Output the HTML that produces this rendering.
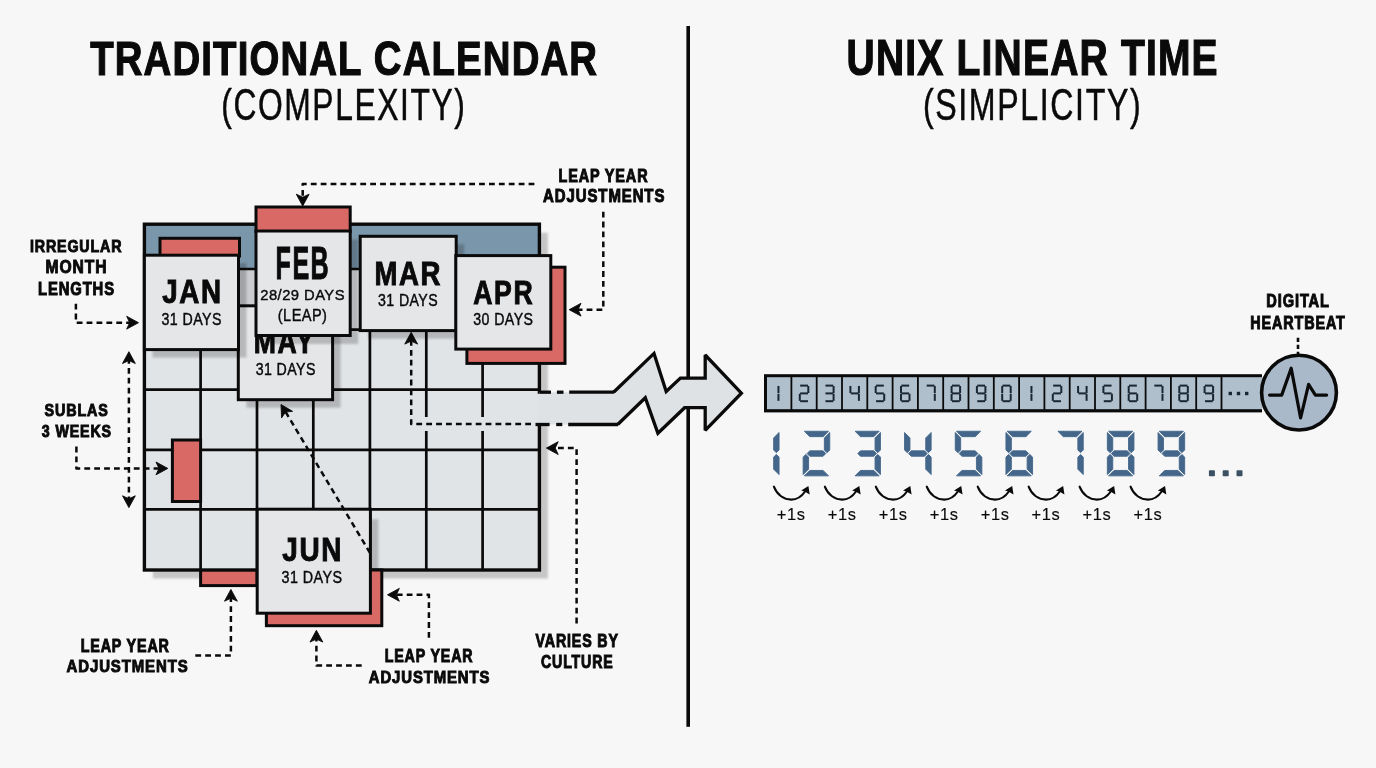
<!DOCTYPE html>
<html><head><meta charset="utf-8"><style>html,body{margin:0;padding:0;background:#f7f7f7;overflow:hidden}svg{display:block}</style></head>
<body><svg width="1376" height="768" viewBox="0 0 1376 768">
<defs><filter id="blur" x="-10%" y="-10%" width="120%" height="120%"><feGaussianBlur stdDeviation="1.2"/></filter></defs>
<rect x="0" y="0" width="1376" height="768" fill="#f7f7f7"/>
<rect x="686.40" y="26.00" width="3.60" height="700.80" fill="#0a0a0a"/>
<rect x="152.90" y="232.70" width="395.00" height="345.80" fill="#000" fill-opacity="0.2" filter="url(#blur)"/>
<rect x="200.60" y="560.00" width="56.40" height="25.60" fill="#d96965" stroke="#0a0a0a" stroke-width="3"/>
<rect x="144.40" y="224.20" width="395.00" height="345.80" fill="#e1e4e7"/>
<rect x="144.40" y="224.20" width="395.00" height="44.80" fill="#7a96aa"/>
<g stroke="#0a0a0a" stroke-width="2.7"><line x1="200.6" y1="269.0" x2="200.6" y2="570.0"/><line x1="257.0" y1="269.0" x2="257.0" y2="570.0"/><line x1="313.3" y1="269.0" x2="313.3" y2="570.0"/><line x1="369.9" y1="269.0" x2="369.9" y2="570.0"/><line x1="426.3" y1="269.0" x2="426.3" y2="570.0"/><line x1="482.6" y1="269.0" x2="482.6" y2="570.0"/><line x1="144.4" y1="269.0" x2="539.4" y2="269.0"/><line x1="144.4" y1="329.6" x2="539.4" y2="329.6"/><line x1="144.4" y1="389.6" x2="539.4" y2="389.6"/><line x1="144.4" y1="449.8" x2="539.4" y2="449.8"/><line x1="144.4" y1="509.3" x2="539.4" y2="509.3"/></g>
<rect x="144.40" y="224.20" width="395.00" height="345.80" fill="none" stroke="#0a0a0a" stroke-width="3.4"/>
<rect x="172.40" y="440.00" width="28.20" height="61.50" fill="#d96965" stroke="#0a0a0a" stroke-width="3"/>
<rect x="421" y="417" width="10" height="14" fill="#e1e4e7"/>
<rect x="477" y="417" width="10" height="14" fill="#e1e4e7"/>
<rect x="537" y="393.8" width="5" height="29.2" fill="#dfe2e5"/>
<polygon points="539.40,392.20 613.60,392.20 654.00,353.40 666.20,391.50 680.40,378.10 705.20,378.10 705.20,355.00 741.40,393.20 705.20,430.30 705.20,407.70 684.60,407.70 657.90,433.30 645.30,397.70 617.70,424.50 539.40,424.50" fill="#dfe2e5" stroke="none"/>
<polyline points="613.60,392.20 654.00,353.40 666.20,391.50 680.40,378.10 705.20,378.10 705.20,355.00 741.40,393.20 705.20,430.30 705.20,407.70 684.60,407.70 657.90,433.30 645.30,397.70 617.70,424.50" fill="none" stroke="#0a0a0a" stroke-width="3.3" stroke-linejoin="miter" stroke-miterlimit="2.2"/>
<line x1="539.4" y1="392.2" x2="551" y2="392.2" stroke="#0a0a0a" stroke-width="3.3"/>
<line x1="556.9" y1="392.2" x2="563.5" y2="392.2" stroke="#0a0a0a" stroke-width="3.3"/>
<line x1="569.2" y1="392.2" x2="614" y2="392.2" stroke="#0a0a0a" stroke-width="3.3"/>
<line x1="535.5" y1="424.5" x2="549.6" y2="424.5" stroke="#0a0a0a" stroke-width="3.3"/>
<line x1="556.2" y1="424.5" x2="562.3" y2="424.5" stroke="#0a0a0a" stroke-width="3.3"/>
<line x1="568.2" y1="424.5" x2="618" y2="424.5" stroke="#0a0a0a" stroke-width="3.3"/>
<polyline points="411.20,340.00 411.20,424.00 531.00,424.00" fill="none" stroke="#0a0a0a" stroke-width="2.5" stroke-dasharray="5.8 4.1" stroke-linejoin="round"/>
<polygon points="411.20,332.30 417.60,344.10 411.20,341.10 404.80,344.10" fill="#0a0a0a" stroke="#0a0a0a" stroke-width="0.9" stroke-linejoin="round"/>
<rect x="246.30" y="313.80" width="94.30" height="93.90" fill="#000" fill-opacity="0.2" filter="url(#blur)"/><rect x="238.30" y="305.80" width="94.30" height="93.90" fill="#e4e6e8" stroke="#0a0a0a" stroke-width="3"/>
<g font-family="Liberation Sans" fill="#0a0a0a" stroke="#0a0a0a" style="opacity:0.999"><text transform="matrix(0.26620 0 0 0.32754 253.787 353.250)" font-size="100" font-weight="bold" letter-spacing="6" stroke-width="0.9" vector-effect="non-scaling-stroke">MAY</text><text transform="matrix(0.14189 0 0 0.16901 255.632 375.331)" font-size="100" font-weight="normal" letter-spacing="3" stroke-width="0.4" vector-effect="non-scaling-stroke">31 DAYS</text></g>
<rect x="152.40" y="263.20" width="94.10" height="94.40" fill="#000" fill-opacity="0.2" filter="url(#blur)"/>
<rect x="239.5" y="270" width="16" height="34.5" fill="#000" fill-opacity="0.1"/>
<rect x="160.00" y="238.30" width="79.50" height="17.70" fill="#d96965" stroke="#0a0a0a" stroke-width="3"/>
<rect x="144.40" y="255.20" width="94.10" height="94.40" fill="#e4e6e8" stroke="#0a0a0a" stroke-width="3"/>
<rect x="264.00" y="239.50" width="94.20" height="104.50" fill="#000" fill-opacity="0.2" filter="url(#blur)"/>
<rect x="256.00" y="207.00" width="94.20" height="24.50" fill="#d96965" stroke="#0a0a0a" stroke-width="3"/>
<rect x="256.00" y="231.00" width="94.20" height="104.50" fill="#e4e6e8" stroke="#0a0a0a" stroke-width="3"/>
<rect x="368.20" y="244.30" width="96.00" height="94.30" fill="#000" fill-opacity="0.2" filter="url(#blur)"/><rect x="360.20" y="236.30" width="96.00" height="94.30" fill="#e4e6e8" stroke="#0a0a0a" stroke-width="3"/>
<rect x="466.90" y="267.20" width="98.10" height="96.20" fill="#d96965" stroke="#0a0a0a" stroke-width="3"/>
<rect x="455.80" y="255.60" width="95.00" height="93.50" fill="#e4e6e8" stroke="#0a0a0a" stroke-width="3"/>
<rect x="265.20" y="519.20" width="113.20" height="104.00" fill="#000" fill-opacity="0.2" filter="url(#blur)"/>
<rect x="266.40" y="570.00" width="115.40" height="55.70" fill="#d96965" stroke="#0a0a0a" stroke-width="3"/>
<rect x="257.20" y="509.20" width="113.20" height="104.00" fill="#e4e6e8" stroke="#0a0a0a" stroke-width="3"/>
<polyline points="534.40,184.00 302.70,184.00 302.70,202.00" fill="none" stroke="#0a0a0a" stroke-width="2.5" stroke-dasharray="5.8 4.1" stroke-linejoin="round"/>
<polygon points="302.70,206.00 296.30,194.20 302.70,197.20 309.10,194.20" fill="#0a0a0a" stroke="#0a0a0a" stroke-width="0.9" stroke-linejoin="round"/>
<polyline points="603.30,211.70 603.30,309.70 573.00,309.70" fill="none" stroke="#0a0a0a" stroke-width="2.5" stroke-dasharray="5.8 4.1" stroke-linejoin="round"/>
<polygon points="569.20,309.70 581.00,303.30 578.00,309.70 581.00,316.10" fill="#0a0a0a" stroke="#0a0a0a" stroke-width="0.9" stroke-linejoin="round"/>
<polyline points="75.90,303.70 75.90,322.70 134.00,322.70" fill="none" stroke="#0a0a0a" stroke-width="2.5" stroke-dasharray="5.8 4.1" stroke-linejoin="round"/>
<polygon points="138.50,322.70 126.70,329.10 129.70,322.70 126.70,316.30" fill="#0a0a0a" stroke="#0a0a0a" stroke-width="0.9" stroke-linejoin="round"/>
<polyline points="128.90,358.00 128.90,501.00" fill="none" stroke="#0a0a0a" stroke-width="2.5" stroke-dasharray="5.8 4.1" stroke-linejoin="round"/>
<polygon points="128.90,351.70 135.30,363.50 128.90,360.50 122.50,363.50" fill="#0a0a0a" stroke="#0a0a0a" stroke-width="0.9" stroke-linejoin="round"/>
<polygon points="128.90,507.60 122.50,495.80 128.90,498.80 135.30,495.80" fill="#0a0a0a" stroke="#0a0a0a" stroke-width="0.9" stroke-linejoin="round"/>
<polyline points="76.40,446.60 76.40,468.40 163.00,468.40" fill="none" stroke="#0a0a0a" stroke-width="2.5" stroke-dasharray="5.8 4.1" stroke-linejoin="round"/>
<polygon points="167.80,468.40 156.00,474.80 159.00,468.40 156.00,462.00" fill="#0a0a0a" stroke="#0a0a0a" stroke-width="0.9" stroke-linejoin="round"/>
<polyline points="195.30,655.60 230.90,655.60 230.90,594.00" fill="none" stroke="#0a0a0a" stroke-width="2.5" stroke-dasharray="5.8 4.1" stroke-linejoin="round"/>
<polygon points="230.90,589.40 237.30,601.20 230.90,598.20 224.50,601.20" fill="#0a0a0a" stroke="#0a0a0a" stroke-width="0.9" stroke-linejoin="round"/>
<polyline points="428.90,637.80 428.90,594.80 392.00,594.80" fill="none" stroke="#0a0a0a" stroke-width="2.5" stroke-dasharray="5.8 4.1" stroke-linejoin="round"/>
<polygon points="387.50,594.80 399.30,588.40 396.30,594.80 399.30,601.20" fill="#0a0a0a" stroke="#0a0a0a" stroke-width="0.9" stroke-linejoin="round"/>
<polyline points="361.70,665.60 316.40,665.60 316.40,635.00" fill="none" stroke="#0a0a0a" stroke-width="2.5" stroke-dasharray="5.8 4.1" stroke-linejoin="round"/>
<polygon points="316.40,630.30 322.80,642.10 316.40,639.10 310.00,642.10" fill="#0a0a0a" stroke="#0a0a0a" stroke-width="0.9" stroke-linejoin="round"/>
<polyline points="576.60,623.40 576.60,448.10 551.00,448.10" fill="none" stroke="#0a0a0a" stroke-width="2.5" stroke-dasharray="5.8 4.1" stroke-linejoin="round"/>
<polygon points="546.40,448.10 558.20,441.70 555.20,448.10 558.20,454.50" fill="#0a0a0a" stroke="#0a0a0a" stroke-width="0.9" stroke-linejoin="round"/>
<polyline points="370.00,552.80 285.50,411.80" fill="none" stroke="#0a0a0a" stroke-width="2.5" stroke-dasharray="5.8 4.1" stroke-linejoin="round"/>
<polygon points="281.00,404.50 292.56,411.32 285.53,412.05 281.58,417.91" fill="#0a0a0a" stroke="#0a0a0a" stroke-width="0.9" stroke-linejoin="round"/>
<g font-family="Liberation Sans" fill="#0a0a0a" stroke="#0a0a0a" vector-effect="non-scaling-stroke" style="opacity:0.999"><text transform="matrix(0.38354 0 0 0.48028 90.166 74.770)" font-size="100" font-weight="bold" letter-spacing="3" stroke-width="1.1" vector-effect="non-scaling-stroke">TRADITIONAL CALENDAR</text><text transform="matrix(0.31810 0 0 0.44734 221.216 119.781)" font-size="100" font-weight="normal" letter-spacing="5" stroke-width="0.45" vector-effect="non-scaling-stroke">(COMPLEXITY)</text><text transform="matrix(0.39044 0 0 0.49714 846.607 75.153)" font-size="100" font-weight="bold" letter-spacing="3" stroke-width="1.1" vector-effect="non-scaling-stroke">UNIX LINEAR TIME</text><text transform="matrix(0.32158 0 0 0.44415 922.896 119.648)" font-size="100" font-weight="normal" letter-spacing="5" stroke-width="0.45" vector-effect="non-scaling-stroke">(SIMPLICITY)</text><text transform="matrix(0.14465 0 0 0.17536 558.437 181.550)" font-size="100" font-weight="bold" letter-spacing="6" stroke-width="0.9" vector-effect="non-scaling-stroke">LEAP YEAR</text><text transform="matrix(0.14981 0 0 0.18028 543.101 202.370)" font-size="100" font-weight="bold" letter-spacing="6" stroke-width="0.9" vector-effect="non-scaling-stroke">ADJUSTMENTS</text><text transform="matrix(0.14250 0 0 0.17324 29.953 251.977)" font-size="100" font-weight="bold" letter-spacing="6" stroke-width="0.9" vector-effect="non-scaling-stroke">IRREGULAR</text><text transform="matrix(0.15623 0 0 0.17887 45.556 273.471)" font-size="100" font-weight="bold" letter-spacing="6" stroke-width="0.9" vector-effect="non-scaling-stroke">MONTH</text><text transform="matrix(0.14811 0 0 0.17746 38.013 294.573)" font-size="100" font-weight="bold" letter-spacing="6" stroke-width="0.9" vector-effect="non-scaling-stroke">LENGTHS</text><text transform="matrix(0.14378 0 0 0.16901 44.519 415.581)" font-size="100" font-weight="bold" letter-spacing="6" stroke-width="0.9" vector-effect="non-scaling-stroke">SUBLAS</text><text transform="matrix(0.14229 0 0 0.16901 41.865 436.681)" font-size="100" font-weight="bold" letter-spacing="6" stroke-width="0.9" vector-effect="non-scaling-stroke">3 WEEKS</text><text transform="matrix(0.14333 0 0 0.17681 80.647 651.550)" font-size="100" font-weight="bold" letter-spacing="6" stroke-width="0.9" vector-effect="non-scaling-stroke">LEAP YEAR</text><text transform="matrix(0.14956 0 0 0.17042 66.601 672.380)" font-size="100" font-weight="bold" letter-spacing="6" stroke-width="0.9" vector-effect="non-scaling-stroke">ADJUSTMENTS</text><text transform="matrix(0.14267 0 0 0.18623 384.651 662.050)" font-size="100" font-weight="bold" letter-spacing="6" stroke-width="0.9" vector-effect="non-scaling-stroke">LEAP YEAR</text><text transform="matrix(0.14913 0 0 0.16338 368.753 683.287)" font-size="100" font-weight="bold" letter-spacing="6" stroke-width="0.9" vector-effect="non-scaling-stroke">ADJUSTMENTS</text><text transform="matrix(0.14229 0 0 0.17746 535.508 646.873)" font-size="100" font-weight="bold" letter-spacing="6" stroke-width="0.9" vector-effect="non-scaling-stroke">VARIES BY</text><text transform="matrix(0.14177 0 0 0.17606 540.983 668.474)" font-size="100" font-weight="bold" letter-spacing="6" stroke-width="0.9" vector-effect="non-scaling-stroke">CULTURE</text><text transform="matrix(0.27783 0 0 0.33286 162.194 303.417)" font-size="100" font-weight="bold" letter-spacing="6" stroke-width="0.9" vector-effect="non-scaling-stroke">JAN</text><text transform="matrix(0.14213 0 0 0.16479 161.531 325.035)" font-size="100" font-weight="normal" letter-spacing="3" stroke-width="0.4" vector-effect="non-scaling-stroke">31 DAYS</text><text transform="matrix(0.25050 0 0 0.47101 275.596 278.750)" font-size="100" font-weight="bold" letter-spacing="6" stroke-width="0.9" vector-effect="non-scaling-stroke">FEB</text><text transform="matrix(0.14786 0 0 0.14595 260.261 300.454)" font-size="100" font-weight="normal" letter-spacing="3" stroke-width="0.4" vector-effect="non-scaling-stroke">28/29 DAYS</text><text transform="matrix(0.14569 0 0 0.17340 277.826 320.559)" font-size="100" font-weight="normal" letter-spacing="3" stroke-width="0.4" vector-effect="non-scaling-stroke">(LEAP)</text><text transform="matrix(0.27565 0 0 0.32754 374.420 284.750)" font-size="100" font-weight="bold" letter-spacing="6" stroke-width="0.9" vector-effect="non-scaling-stroke">MAR</text><text transform="matrix(0.14165 0 0 0.16901 377.933 305.931)" font-size="100" font-weight="normal" letter-spacing="3" stroke-width="0.4" vector-effect="non-scaling-stroke">31 DAYS</text><text transform="matrix(0.26606 0 0 0.32464 473.252 303.850)" font-size="100" font-weight="bold" letter-spacing="6" stroke-width="0.9" vector-effect="non-scaling-stroke">APR</text><text transform="matrix(0.14165 0 0 0.16901 473.233 325.231)" font-size="100" font-weight="normal" letter-spacing="3" stroke-width="0.4" vector-effect="non-scaling-stroke">30 DAYS</text><text transform="matrix(0.27931 0 0 0.33857 282.191 561.211)" font-size="100" font-weight="bold" letter-spacing="6" stroke-width="0.9" vector-effect="non-scaling-stroke">JUN</text><text transform="matrix(0.14334 0 0 0.16620 281.527 582.534)" font-size="100" font-weight="normal" letter-spacing="3" stroke-width="0.4" vector-effect="non-scaling-stroke">31 DAYS</text><text transform="matrix(0.14630 0 0 0.18169 1266.326 307.268)" font-size="100" font-weight="bold" letter-spacing="6" stroke-width="0.9" vector-effect="non-scaling-stroke">DIGITAL</text><text transform="matrix(0.14391 0 0 0.18406 1250.343 328.550)" font-size="100" font-weight="bold" letter-spacing="6" stroke-width="0.9" vector-effect="non-scaling-stroke">HEARTBEAT</text><text transform="matrix(0.16411 0 0 0.16071 776.854 519.764)" font-size="100" font-weight="normal" letter-spacing="4" stroke-width="0.15" vector-effect="non-scaling-stroke">+1s</text><text transform="matrix(0.16411 0 0 0.16071 827.804 519.764)" font-size="100" font-weight="normal" letter-spacing="4" stroke-width="0.15" vector-effect="non-scaling-stroke">+1s</text><text transform="matrix(0.16411 0 0 0.16071 878.754 519.764)" font-size="100" font-weight="normal" letter-spacing="4" stroke-width="0.15" vector-effect="non-scaling-stroke">+1s</text><text transform="matrix(0.16411 0 0 0.16071 929.704 519.764)" font-size="100" font-weight="normal" letter-spacing="4" stroke-width="0.15" vector-effect="non-scaling-stroke">+1s</text><text transform="matrix(0.16411 0 0 0.16071 980.654 519.764)" font-size="100" font-weight="normal" letter-spacing="4" stroke-width="0.15" vector-effect="non-scaling-stroke">+1s</text><text transform="matrix(0.16411 0 0 0.16071 1031.604 519.764)" font-size="100" font-weight="normal" letter-spacing="4" stroke-width="0.15" vector-effect="non-scaling-stroke">+1s</text><text transform="matrix(0.16411 0 0 0.16071 1082.554 519.764)" font-size="100" font-weight="normal" letter-spacing="4" stroke-width="0.15" vector-effect="non-scaling-stroke">+1s</text><text transform="matrix(0.16411 0 0 0.16071 1133.504 519.764)" font-size="100" font-weight="normal" letter-spacing="4" stroke-width="0.15" vector-effect="non-scaling-stroke">+1s</text></g>
<rect x="764.00" y="374.20" width="498.00" height="38.20" fill="#0a0a0a"/>
<rect x="767.00" y="377.20" width="23.50" height="32.00" fill="#b0bfcc"/>
<g stroke="#1a2633" stroke-width="2.0" stroke-linecap="butt"><line x1="778.45" y1="385.95" x2="778.45" y2="393.05"/><line x1="778.45" y1="393.75" x2="778.45" y2="400.85"/></g>
<rect x="792.30" y="377.20" width="23.50" height="32.00" fill="#b0bfcc"/>
<g stroke="#1a2633" stroke-width="2.0" stroke-linecap="butt"><line x1="800.15" y1="385.60" x2="807.95" y2="385.60"/><line x1="808.30" y1="385.95" x2="808.30" y2="393.05"/><line x1="800.15" y1="393.40" x2="807.95" y2="393.40"/><line x1="799.80" y1="393.75" x2="799.80" y2="400.85"/><line x1="800.15" y1="401.20" x2="807.95" y2="401.20"/></g>
<rect x="817.60" y="377.20" width="23.50" height="32.00" fill="#b0bfcc"/>
<g stroke="#1a2633" stroke-width="2.0" stroke-linecap="butt"><line x1="825.45" y1="385.60" x2="833.25" y2="385.60"/><line x1="833.60" y1="385.95" x2="833.60" y2="393.05"/><line x1="825.45" y1="393.40" x2="833.25" y2="393.40"/><line x1="833.60" y1="393.75" x2="833.60" y2="400.85"/><line x1="825.45" y1="401.20" x2="833.25" y2="401.20"/></g>
<rect x="842.90" y="377.20" width="23.50" height="32.00" fill="#b0bfcc"/>
<g stroke="#1a2633" stroke-width="2.0" stroke-linecap="butt"><line x1="850.40" y1="385.95" x2="850.40" y2="393.05"/><line x1="850.75" y1="393.40" x2="858.55" y2="393.40"/><line x1="858.90" y1="385.95" x2="858.90" y2="393.05"/><line x1="858.90" y1="393.75" x2="858.90" y2="400.85"/></g>
<rect x="868.20" y="377.20" width="23.50" height="32.00" fill="#b0bfcc"/>
<g stroke="#1a2633" stroke-width="2.0" stroke-linecap="butt"><line x1="876.05" y1="385.60" x2="883.85" y2="385.60"/><line x1="875.70" y1="385.95" x2="875.70" y2="393.05"/><line x1="876.05" y1="393.40" x2="883.85" y2="393.40"/><line x1="884.20" y1="393.75" x2="884.20" y2="400.85"/><line x1="876.05" y1="401.20" x2="883.85" y2="401.20"/></g>
<rect x="893.50" y="377.20" width="23.50" height="32.00" fill="#b0bfcc"/>
<g stroke="#1a2633" stroke-width="2.0" stroke-linecap="butt"><line x1="901.35" y1="385.60" x2="909.15" y2="385.60"/><line x1="901.00" y1="385.95" x2="901.00" y2="393.05"/><line x1="901.35" y1="393.40" x2="909.15" y2="393.40"/><line x1="901.00" y1="393.75" x2="901.00" y2="400.85"/><line x1="901.35" y1="401.20" x2="909.15" y2="401.20"/><line x1="909.50" y1="393.75" x2="909.50" y2="400.85"/></g>
<rect x="918.80" y="377.20" width="23.50" height="32.00" fill="#b0bfcc"/>
<g stroke="#1a2633" stroke-width="2.0" stroke-linecap="butt"><line x1="926.65" y1="385.60" x2="934.45" y2="385.60"/><line x1="934.80" y1="385.95" x2="934.80" y2="393.05"/><line x1="934.80" y1="393.75" x2="934.80" y2="400.85"/></g>
<rect x="944.10" y="377.20" width="23.50" height="32.00" fill="#b0bfcc"/>
<g stroke="#1a2633" stroke-width="2.0" stroke-linecap="butt"><line x1="951.95" y1="385.60" x2="959.75" y2="385.60"/><line x1="960.10" y1="385.95" x2="960.10" y2="393.05"/><line x1="960.10" y1="393.75" x2="960.10" y2="400.85"/><line x1="951.95" y1="401.20" x2="959.75" y2="401.20"/><line x1="951.60" y1="393.75" x2="951.60" y2="400.85"/><line x1="951.60" y1="385.95" x2="951.60" y2="393.05"/><line x1="951.95" y1="393.40" x2="959.75" y2="393.40"/></g>
<rect x="969.40" y="377.20" width="23.50" height="32.00" fill="#b0bfcc"/>
<g stroke="#1a2633" stroke-width="2.0" stroke-linecap="butt"><line x1="977.25" y1="385.60" x2="985.05" y2="385.60"/><line x1="985.40" y1="385.95" x2="985.40" y2="393.05"/><line x1="985.40" y1="393.75" x2="985.40" y2="400.85"/><line x1="977.25" y1="401.20" x2="985.05" y2="401.20"/><line x1="976.90" y1="385.95" x2="976.90" y2="393.05"/><line x1="977.25" y1="393.40" x2="985.05" y2="393.40"/></g>
<rect x="994.70" y="377.20" width="23.50" height="32.00" fill="#b0bfcc"/>
<g stroke="#1a2633" stroke-width="2.0" stroke-linecap="butt"><line x1="1002.55" y1="385.60" x2="1010.35" y2="385.60"/><line x1="1010.70" y1="385.95" x2="1010.70" y2="393.05"/><line x1="1010.70" y1="393.75" x2="1010.70" y2="400.85"/><line x1="1002.55" y1="401.20" x2="1010.35" y2="401.20"/><line x1="1002.20" y1="393.75" x2="1002.20" y2="400.85"/><line x1="1002.20" y1="385.95" x2="1002.20" y2="393.05"/></g>
<rect x="1020.00" y="377.20" width="23.50" height="32.00" fill="#b0bfcc"/>
<g stroke="#1a2633" stroke-width="2.0" stroke-linecap="butt"><line x1="1031.45" y1="385.95" x2="1031.45" y2="393.05"/><line x1="1031.45" y1="393.75" x2="1031.45" y2="400.85"/></g>
<rect x="1045.30" y="377.20" width="23.50" height="32.00" fill="#b0bfcc"/>
<g stroke="#1a2633" stroke-width="2.0" stroke-linecap="butt"><line x1="1053.15" y1="385.60" x2="1060.95" y2="385.60"/><line x1="1061.30" y1="385.95" x2="1061.30" y2="393.05"/><line x1="1053.15" y1="393.40" x2="1060.95" y2="393.40"/><line x1="1052.80" y1="393.75" x2="1052.80" y2="400.85"/><line x1="1053.15" y1="401.20" x2="1060.95" y2="401.20"/></g>
<rect x="1070.60" y="377.20" width="23.50" height="32.00" fill="#b0bfcc"/>
<g stroke="#1a2633" stroke-width="2.0" stroke-linecap="butt"><line x1="1078.10" y1="385.95" x2="1078.10" y2="393.05"/><line x1="1078.45" y1="393.40" x2="1086.25" y2="393.40"/><line x1="1086.60" y1="385.95" x2="1086.60" y2="393.05"/><line x1="1086.60" y1="393.75" x2="1086.60" y2="400.85"/></g>
<rect x="1095.90" y="377.20" width="23.50" height="32.00" fill="#b0bfcc"/>
<g stroke="#1a2633" stroke-width="2.0" stroke-linecap="butt"><line x1="1103.75" y1="385.60" x2="1111.55" y2="385.60"/><line x1="1103.40" y1="385.95" x2="1103.40" y2="393.05"/><line x1="1103.75" y1="393.40" x2="1111.55" y2="393.40"/><line x1="1111.90" y1="393.75" x2="1111.90" y2="400.85"/><line x1="1103.75" y1="401.20" x2="1111.55" y2="401.20"/></g>
<rect x="1121.20" y="377.20" width="23.50" height="32.00" fill="#b0bfcc"/>
<g stroke="#1a2633" stroke-width="2.0" stroke-linecap="butt"><line x1="1129.05" y1="385.60" x2="1136.85" y2="385.60"/><line x1="1128.70" y1="385.95" x2="1128.70" y2="393.05"/><line x1="1129.05" y1="393.40" x2="1136.85" y2="393.40"/><line x1="1128.70" y1="393.75" x2="1128.70" y2="400.85"/><line x1="1129.05" y1="401.20" x2="1136.85" y2="401.20"/><line x1="1137.20" y1="393.75" x2="1137.20" y2="400.85"/></g>
<rect x="1146.50" y="377.20" width="23.50" height="32.00" fill="#b0bfcc"/>
<g stroke="#1a2633" stroke-width="2.0" stroke-linecap="butt"><line x1="1154.35" y1="385.60" x2="1162.15" y2="385.60"/><line x1="1162.50" y1="385.95" x2="1162.50" y2="393.05"/><line x1="1162.50" y1="393.75" x2="1162.50" y2="400.85"/></g>
<rect x="1171.80" y="377.20" width="23.50" height="32.00" fill="#b0bfcc"/>
<g stroke="#1a2633" stroke-width="2.0" stroke-linecap="butt"><line x1="1179.65" y1="385.60" x2="1187.45" y2="385.60"/><line x1="1187.80" y1="385.95" x2="1187.80" y2="393.05"/><line x1="1187.80" y1="393.75" x2="1187.80" y2="400.85"/><line x1="1179.65" y1="401.20" x2="1187.45" y2="401.20"/><line x1="1179.30" y1="393.75" x2="1179.30" y2="400.85"/><line x1="1179.30" y1="385.95" x2="1179.30" y2="393.05"/><line x1="1179.65" y1="393.40" x2="1187.45" y2="393.40"/></g>
<rect x="1197.10" y="377.20" width="23.50" height="32.00" fill="#b0bfcc"/>
<g stroke="#1a2633" stroke-width="2.0" stroke-linecap="butt"><line x1="1204.95" y1="385.60" x2="1212.75" y2="385.60"/><line x1="1213.10" y1="385.95" x2="1213.10" y2="393.05"/><line x1="1213.10" y1="393.75" x2="1213.10" y2="400.85"/><line x1="1204.95" y1="401.20" x2="1212.75" y2="401.20"/><line x1="1204.60" y1="385.95" x2="1204.60" y2="393.05"/><line x1="1204.95" y1="393.40" x2="1212.75" y2="393.40"/></g>
<rect x="1222.40" y="377.20" width="39.60" height="32.00" fill="#b0bfcc"/>
<rect x="1228.60" y="391.80" width="3.40" height="3.40" fill="#1a2633"/>
<rect x="1236.80" y="391.80" width="3.40" height="3.40" fill="#1a2633"/>
<rect x="1245.00" y="391.80" width="3.40" height="3.40" fill="#1a2633"/>
<polyline points="1298.00,337.80 1298.00,354.00" fill="none" stroke="#0a0a0a" stroke-width="2.6" stroke-dasharray="4.2 2.8" stroke-linejoin="round"/>
<circle cx="1299.0" cy="392.6" r="37.4" fill="#a9b9c9" stroke="#0a0a0a" stroke-width="3.6"/>
<polyline points="1269.6,395.1 1281.7,395.1 1291.2,368.2 1300.6,418.0 1308.6,384.4 1315.4,395.1 1326.6,395.1" fill="none" stroke="#0a0a0a" stroke-width="3.2" stroke-linejoin="round" stroke-linecap="round"/>
<g fill="#43668a" stroke="#43668a" stroke-width="0.9" stroke-linejoin="round"><polygon points="779.05,432.50 773.65,437.90 773.65,449.98 776.35,452.68 779.05,449.98"/><polygon points="779.05,457.12 776.35,454.43 773.65,457.12 773.65,469.20 779.05,474.60"/></g>
<g fill="#43668a" stroke="#43668a" stroke-width="0.9" stroke-linejoin="round"><polygon points="804.40,431.25 828.50,431.25 823.10,436.65 809.80,436.65"/><polygon points="829.75,432.50 824.35,437.90 824.35,449.98 827.05,452.68 829.75,449.98"/><polygon points="807.10,453.55 809.80,450.85 823.10,450.85 825.80,453.55 823.10,456.25 809.80,456.25"/><polygon points="803.15,457.12 805.85,454.43 808.55,457.12 808.55,469.20 803.15,474.60"/><polygon points="809.80,470.45 823.10,470.45 828.50,475.85 804.40,475.85"/></g>
<g fill="#43668a" stroke="#43668a" stroke-width="0.9" stroke-linejoin="round"><polygon points="855.10,431.25 879.20,431.25 873.80,436.65 860.50,436.65"/><polygon points="880.45,432.50 875.05,437.90 875.05,449.98 877.75,452.68 880.45,449.98"/><polygon points="857.80,453.55 860.50,450.85 873.80,450.85 876.50,453.55 873.80,456.25 860.50,456.25"/><polygon points="880.45,457.12 877.75,454.43 875.05,457.12 875.05,469.20 880.45,474.60"/><polygon points="860.50,470.45 873.80,470.45 879.20,475.85 855.10,475.85"/></g>
<g fill="#43668a" stroke="#43668a" stroke-width="0.9" stroke-linejoin="round"><polygon points="904.55,432.50 909.95,437.90 909.95,449.98 907.25,452.68 904.55,449.98"/><polygon points="908.50,453.55 911.20,450.85 924.50,450.85 927.20,453.55 924.50,456.25 911.20,456.25"/><polygon points="931.15,432.50 925.75,437.90 925.75,449.98 928.45,452.68 931.15,449.98"/><polygon points="931.15,457.12 928.45,454.43 925.75,457.12 925.75,469.20 931.15,474.60"/></g>
<g fill="#43668a" stroke="#43668a" stroke-width="0.9" stroke-linejoin="round"><polygon points="956.50,431.25 980.60,431.25 975.20,436.65 961.90,436.65"/><polygon points="955.25,432.50 960.65,437.90 960.65,449.98 957.95,452.68 955.25,449.98"/><polygon points="959.20,453.55 961.90,450.85 975.20,450.85 977.90,453.55 975.20,456.25 961.90,456.25"/><polygon points="981.85,457.12 979.15,454.43 976.45,457.12 976.45,469.20 981.85,474.60"/><polygon points="961.90,470.45 975.20,470.45 980.60,475.85 956.50,475.85"/></g>
<g fill="#43668a" stroke="#43668a" stroke-width="0.9" stroke-linejoin="round"><polygon points="1007.20,431.25 1031.30,431.25 1025.90,436.65 1012.60,436.65"/><polygon points="1005.95,432.50 1011.35,437.90 1011.35,449.98 1008.65,452.68 1005.95,449.98"/><polygon points="1009.90,453.55 1012.60,450.85 1025.90,450.85 1028.60,453.55 1025.90,456.25 1012.60,456.25"/><polygon points="1005.95,457.12 1008.65,454.43 1011.35,457.12 1011.35,469.20 1005.95,474.60"/><polygon points="1012.60,470.45 1025.90,470.45 1031.30,475.85 1007.20,475.85"/><polygon points="1032.55,457.12 1029.85,454.43 1027.15,457.12 1027.15,469.20 1032.55,474.60"/></g>
<g fill="#43668a" stroke="#43668a" stroke-width="0.9" stroke-linejoin="round"><polygon points="1057.90,431.25 1082.00,431.25 1076.60,436.65 1063.30,436.65"/><polygon points="1083.25,432.50 1077.85,437.90 1077.85,449.98 1080.55,452.68 1083.25,449.98"/><polygon points="1083.25,457.12 1080.55,454.43 1077.85,457.12 1077.85,469.20 1083.25,474.60"/></g>
<g fill="#43668a" stroke="#43668a" stroke-width="0.9" stroke-linejoin="round"><polygon points="1108.60,431.25 1132.70,431.25 1127.30,436.65 1114.00,436.65"/><polygon points="1133.95,432.50 1128.55,437.90 1128.55,449.98 1131.25,452.68 1133.95,449.98"/><polygon points="1133.95,457.12 1131.25,454.43 1128.55,457.12 1128.55,469.20 1133.95,474.60"/><polygon points="1114.00,470.45 1127.30,470.45 1132.70,475.85 1108.60,475.85"/><polygon points="1107.35,457.12 1110.05,454.43 1112.75,457.12 1112.75,469.20 1107.35,474.60"/><polygon points="1107.35,432.50 1112.75,437.90 1112.75,449.98 1110.05,452.68 1107.35,449.98"/><polygon points="1111.30,453.55 1114.00,450.85 1127.30,450.85 1130.00,453.55 1127.30,456.25 1114.00,456.25"/></g>
<g fill="#43668a" stroke="#43668a" stroke-width="0.9" stroke-linejoin="round"><polygon points="1159.30,431.25 1183.40,431.25 1178.00,436.65 1164.70,436.65"/><polygon points="1184.65,432.50 1179.25,437.90 1179.25,449.98 1181.95,452.68 1184.65,449.98"/><polygon points="1184.65,457.12 1181.95,454.43 1179.25,457.12 1179.25,469.20 1184.65,474.60"/><polygon points="1164.70,470.45 1178.00,470.45 1183.40,475.85 1159.30,475.85"/><polygon points="1158.05,432.50 1163.45,437.90 1163.45,449.98 1160.75,452.68 1158.05,449.98"/><polygon points="1162.00,453.55 1164.70,450.85 1178.00,450.85 1180.70,453.55 1178.00,456.25 1164.70,456.25"/></g>
<rect x="1208.90" y="470.20" width="6.00" height="6.00" fill="#3b5163" rx="0.8"/>
<rect x="1222.70" y="470.20" width="6.00" height="6.00" fill="#3b5163" rx="0.8"/>
<rect x="1236.50" y="470.20" width="6.00" height="6.00" fill="#3b5163" rx="0.8"/>
<path d="M773.90,486.7 C777.00,495 784.00,499.6 791.30,499.6 C797.50,499.6 802.00,496 805.00,491.5" fill="none" stroke="#0a0a0a" stroke-width="2.1" stroke-linecap="round"/>
<polygon points="808.40,486.0 801.20,490.5 804.60,491.5 809.70,494.4" fill="#0a0a0a"/>
<path d="M824.85,486.7 C827.95,495 834.95,499.6 842.25,499.6 C848.45,499.6 852.95,496 855.95,491.5" fill="none" stroke="#0a0a0a" stroke-width="2.1" stroke-linecap="round"/>
<polygon points="859.35,486.0 852.15,490.5 855.55,491.5 860.65,494.4" fill="#0a0a0a"/>
<path d="M875.80,486.7 C878.90,495 885.90,499.6 893.20,499.6 C899.40,499.6 903.90,496 906.90,491.5" fill="none" stroke="#0a0a0a" stroke-width="2.1" stroke-linecap="round"/>
<polygon points="910.30,486.0 903.10,490.5 906.50,491.5 911.60,494.4" fill="#0a0a0a"/>
<path d="M926.75,486.7 C929.85,495 936.85,499.6 944.15,499.6 C950.35,499.6 954.85,496 957.85,491.5" fill="none" stroke="#0a0a0a" stroke-width="2.1" stroke-linecap="round"/>
<polygon points="961.25,486.0 954.05,490.5 957.45,491.5 962.55,494.4" fill="#0a0a0a"/>
<path d="M977.70,486.7 C980.80,495 987.80,499.6 995.10,499.6 C1001.30,499.6 1005.80,496 1008.80,491.5" fill="none" stroke="#0a0a0a" stroke-width="2.1" stroke-linecap="round"/>
<polygon points="1012.20,486.0 1005.00,490.5 1008.40,491.5 1013.50,494.4" fill="#0a0a0a"/>
<path d="M1028.65,486.7 C1031.75,495 1038.75,499.6 1046.05,499.6 C1052.25,499.6 1056.75,496 1059.75,491.5" fill="none" stroke="#0a0a0a" stroke-width="2.1" stroke-linecap="round"/>
<polygon points="1063.15,486.0 1055.95,490.5 1059.35,491.5 1064.45,494.4" fill="#0a0a0a"/>
<path d="M1079.60,486.7 C1082.70,495 1089.70,499.6 1097.00,499.6 C1103.20,499.6 1107.70,496 1110.70,491.5" fill="none" stroke="#0a0a0a" stroke-width="2.1" stroke-linecap="round"/>
<polygon points="1114.10,486.0 1106.90,490.5 1110.30,491.5 1115.40,494.4" fill="#0a0a0a"/>
<path d="M1130.55,486.7 C1133.65,495 1140.65,499.6 1147.95,499.6 C1154.15,499.6 1158.65,496 1161.65,491.5" fill="none" stroke="#0a0a0a" stroke-width="2.1" stroke-linecap="round"/>
<polygon points="1165.05,486.0 1157.85,490.5 1161.25,491.5 1166.35,494.4" fill="#0a0a0a"/>
</svg></body></html>
